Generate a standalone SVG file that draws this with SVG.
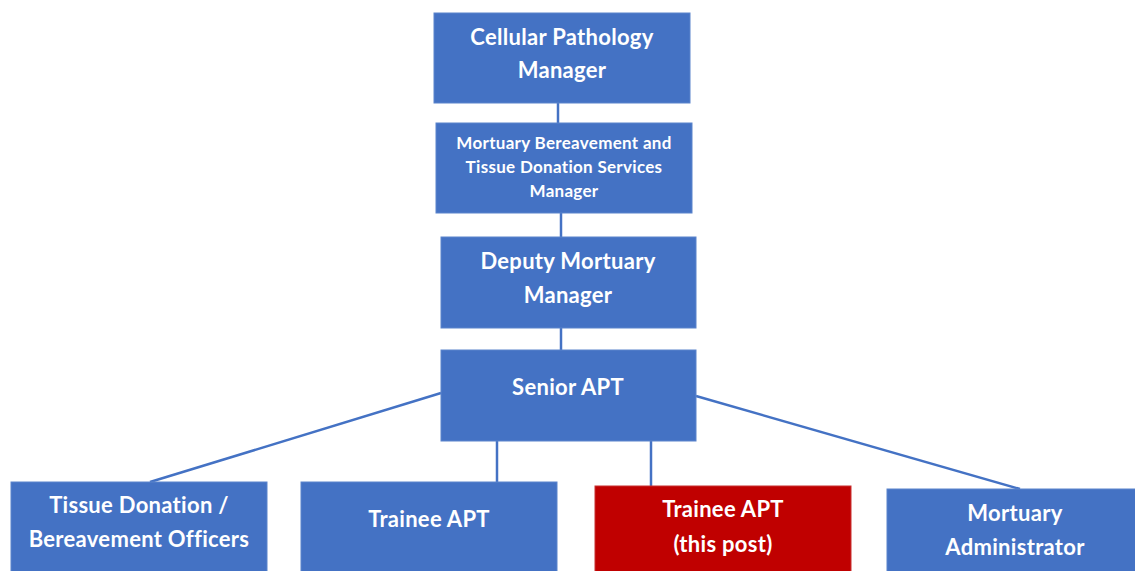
<svg xmlns="http://www.w3.org/2000/svg" width="1135" height="571" viewBox="0 0 1135 571">
<style>
.box{fill:#4472C4;stroke:#5B84CC;stroke-width:1}
.red{fill:#C00000;stroke:#C83030;stroke-width:1}
.t{font-family:Lato,"Liberation Sans",sans-serif;font-weight:bold;fill:#fff;text-anchor:middle;font-size:22px;letter-spacing:0.3px}
.s{font-size:17px}
.c line{stroke:#4472C4;stroke-width:2.5}
</style>
<rect width="1135" height="571" fill="#fff"/>
<g class="c" id="connectors">
<line x1="558" y1="103" x2="558" y2="123"/>
<line x1="561" y1="213" x2="561" y2="237"/>
<line x1="561" y1="328" x2="561" y2="350"/>
<line x1="441" y1="393" x2="150" y2="482"/>
<line x1="497" y1="441" x2="497" y2="482"/>
<line x1="651" y1="441" x2="651" y2="486"/>
<line x1="696" y1="396" x2="1020" y2="489"/>
</g>
<g id="cellular">
<rect class="box" x="434" y="13" width="256" height="90"/>
<text class="t" x="562" y="45">Cellular Pathology</text>
<text class="t" x="562" y="78">Manager</text>
</g>
<g id="mortuary-manager">
<rect class="box" x="436" y="123" width="256" height="90"/>
<text class="t s" x="564" y="149">Mortuary Bereavement and</text>
<text class="t s" x="564" y="173">Tissue Donation Services</text>
<text class="t s" x="564" y="197">Manager</text>
</g>
<g id="deputy">
<rect class="box" x="441" y="237" width="255" height="91"/>
<text class="t" x="568" y="269">Deputy Mortuary</text>
<text class="t" x="568" y="303">Manager</text>
</g>
<g id="senior">
<rect class="box" x="441" y="350" width="255" height="91"/>
<text class="t" x="568" y="395">Senior APT</text>
</g>
<g id="tissue">
<rect class="box" x="11" y="482" width="256" height="95"/>
<text class="t" x="139" y="513">Tissue Donation /</text>
<text class="t" x="139" y="547">Bereavement Officers</text>
</g>
<g id="trainee">
<rect class="box" x="301" y="482" width="256" height="95"/>
<text class="t" x="429" y="527">Trainee APT</text>
</g>
<g id="trainee-this">
<rect class="red" x="595" y="486" width="256" height="95"/>
<text class="t" x="723" y="517">Trainee APT</text>
<text class="t" x="723" y="552">(this post)</text>
</g>
<g id="admin">
<rect class="box" x="887" y="489" width="256" height="95"/>
<text class="t" x="1015" y="521">Mortuary</text>
<text class="t" x="1015" y="555">Administrator</text>
</g>
</svg>
